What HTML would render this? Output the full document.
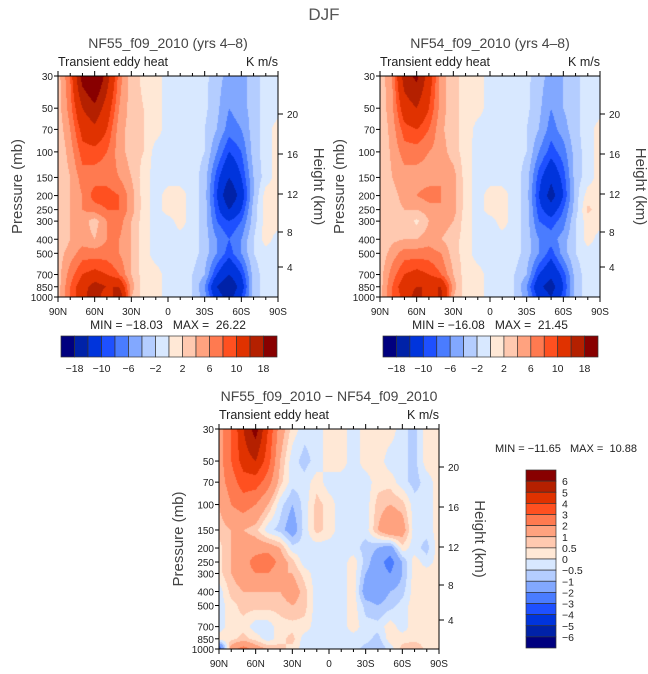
<!DOCTYPE html>
<html><head><meta charset="utf-8"><style>
body{margin:0;background:#fff;width:648px;height:674px;position:relative;overflow:hidden;font-family:"Liberation Sans",sans-serif}
canvas{position:absolute}
svg{position:absolute;left:0;top:0}
svg text{white-space:pre}
</style></head><body>
<canvas id="c1" style="left:58px;top:76px" width="220" height="221"></canvas>
<canvas id="c2" style="left:380px;top:76px" width="220" height="221"></canvas>
<canvas id="c3" style="left:219px;top:429px" width="220" height="220"></canvas>
<svg id="s" width="648" height="674"></svg>
<script>
const levels = [30,50,70,100,150,200,250,300,400,500,700,850,1000];
const lats = ["90N","80N","70N","60N","50N","40N","30N","20N","10N","0","10S","20S","30S","40S","50S","60S","70S","80S","90S"];
const xTickLabels = ["90N","60N","30N","0","30S","60S","90S"];
const pTickLabels = [30,50,70,100,150,200,250,300,400,500,700,850,1000];
const kmTicks = [4,8,12,16,20];
const fullLevels = [-18,-14,-10,-8,-6,-4,-2,0,2,4,6,8,10,14,18];
const fullLabels = ["-18","-10","-6","-2","2","6","10","18"];
const diffLevels = [-6,-5,-4,-3,-2,-1,-0.5,0,0.5,1,2,3,4,5,6];
const diffLabels = ["6","5","4","3","2","1","0.5","0","-0.5","-1","-2","-3","-4","-5","-6"];
const colors = ["#00007f","#0022a8","#0034dc","#1e50ff","#4a7cff","#82a8ff","#b4cdff","#d8e8ff","#ffe8d6","#ffc9b0","#ffa27f","#ff7a50","#ff5020","#e03200","#b42000","#880000"];

const field1 = [
[3,8,20,24,16,7,3,1.5,1,-1,-1,-1,-1.5,-3,-5,-5,-3,-1,-1],
[3,7,14,17,12,6,3,2,1,-1,-1,-1,-1.5,-3.5,-6,-5,-3,-1,-1],
[2.5,6,11,13,10,5,3,2,1,-1,-1,-1,-2,-4,-7,-6,-3,-1,1],
[2,5,9,9,8,5,3,2,-1,-1,-1.5,-1,-2,-6,-10,-8,-3,-1,1],
[2,4,7,7,7,6,4,1,-1,-1,-1,-1,-3,-9,-14,-10,-4,-1,1],
[2,4,6,9,9,8,5,1,-1,1,1,-1,-3,-10,-18,-12,-4,1,1],
[2,4,6,7,8,8,5,1,-1,1,1,-1,-3,-9,-14,-10,-3,1,1],
[2,4,5,3,6,7,4,1,-1,-1,1,-1,-3,-8,-10,-8,-3,1,1],
[2,4,5,4,6,6,4,1,-1,-1,-1,-1,-3,-6,-8,-6,-2,1,-1],
[3,5,7,7,7,6,4,1,-1,-1,-1,-1,-3,-6,-9,-6,-2,-1,-1],
[3,7,10,11,10,8,4,1,1,-1,-1,-2,-4,-10,-14,-10,-3,-1,-1],
[3,8,12,16,14,14,5,1,1,-1,-1,-2,-6,-14,-18,-12,-3,-1,-1],
[3,8,12,18,10,18,4,1,1,-1,-1,-2,-5,-12,-16,-10,-3,-1,-1]];
const field2 = [
[2.5,6,16,19,12,5,2.5,1.5,1,-1,-1,-1,-1.5,-3,-5,-4,-2.5,-1,-1],
[2.5,5.5,12,14,10,5,2.5,1.5,1,-1,-1,-1,-1.5,-3.5,-6,-4,-2.5,-1,-1],
[2,5,9,10,8,4.5,2.5,1.5,-1,-1,-1,-1,-2,-4,-7,-5,-2.5,-1,1],
[2,4.5,7,7,6,5,3,1,-1,-1,-1,-1,-2,-6,-9,-7,-3,-1,1],
[2,4,5,5,5,6,5,1,-1,-1,-1,-1,-3,-9,-13,-9,-3,-1,1],
[2,3.5,4.5,6,7,6,5,1,-1,1,1,-1,-3,-10,-16,-10,-3,1,1],
[2,3.5,4,4,5,6,5,1,-1,1,1,-1,-3,-9,-12,-8,-3,2.5,1],
[2,3.5,3.5,1.5,4,5,4,1,-1,-1,1,-1,-3,-8,-9,-7,-2,1,1],
[2,3.5,4,4,5,4,3,1,-1,-1,-1,-1,-3,-6,-7,-5,-2,1,-1],
[2.5,5,7,7,7,6,3,1,-1,-1,-1,-1,-3,-6,-9,-5,-2,-1,-1],
[3,7,10,11,10,8,4,1,1,-1,-1,-2,-4,-10,-13,-9,-3,-1,-1],
[3,8,12,14,14,14,5,1,1,-1,-1,-2,-6,-13,-16,-10,-3,-1,-1],
[3,8,11,16,11,15,4,1,1,-1,-1,-2,-5,-11,-14,-9,-3,-1,-1]];
const field3 = [
[1.5,3,5,6.5,4,1.5,0.3,-0.3,-0.3,0.3,0.3,-0.3,0.3,0.3,0.3,-0.3,-0.7,0.3,0.3],
[1.5,3,4.5,5,3.5,1,-0.3,-0.7,-0.3,0.3,0.3,-0.3,0.3,0.3,-0.3,-0.3,-0.7,0.3,0.3],
[1.5,2.5,3.5,3.5,2.5,0.7,-0.3,-0.3,0.3,-0.3,-0.3,-0.3,-0.3,0.3,0.3,-0.3,-0.7,-0.3,0.3],
[1,2,2.5,2,1,-0.3,-1,-0.3,0.7,0.3,-0.3,-0.3,-0.3,0.7,1,0.7,-0.3,-0.3,0.3],
[0.7,1,1,0.7,-0.3,-0.7,-1.5,-0.3,0.7,0.3,-0.3,-0.3,-0.3,1,2,1.5,-0.3,-0.3,0.3],
[0.3,1,1.5,1.5,1.5,1,-0.3,-0.3,-0.3,-0.3,-0.3,-0.3,-0.7,-1,-1.5,0.3,-0.3,-0.7,0.3],
[0.3,1,1.5,2.5,3,1.5,0.7,-0.3,-0.3,-0.3,-0.3,0.3,-0.7,-1.5,-2.5,-1,0.3,-0.3,0.3],
[0.3,1,1.5,2,2,1,1,0.3,-0.3,-0.3,-0.3,0.3,-1,-1.5,-2,-1,0.3,0.3,0.3],
[-0.3,0.7,1,1,1,1,1.5,0.7,-0.3,-0.3,-0.3,0.3,-1.5,-1.5,-1,-0.7,0.3,0.3,0.3],
[-0.3,0.3,0.7,0.7,0.7,0.7,1,0.7,-0.3,-0.3,-0.3,0.3,-0.7,-1,-0.7,-0.3,0.3,0.3,0.3],
[-0.3,0.3,0.3,-0.3,-0.3,0.3,0.3,0.3,-0.3,-0.3,-0.3,0.3,-0.3,-0.3,0.3,-0.3,0.3,0.3,0.3],
[0.3,0.3,0.7,0.3,-0.3,0.3,0.7,-0.3,-0.3,-0.3,-0.3,-0.3,-0.3,-0.7,0.3,0.3,0.3,0.3,0.3],
[-3,1.5,2.5,1.5,1,0.7,0.3,-0.3,-0.3,-0.3,-0.3,-0.3,-0.7,-1,-0.3,0.7,1,0.3,0.3]];

const LT = Math.log(1000/30);
function yOfP(p,h){return Math.log(p/30)/LT*h;}
function colorIdx(v,lv){let i=0;while(i<lv.length&&v>=lv[i])i++;return i;}
function fill(id,data,lv){
  const c=document.getElementById(id),ctx=c.getContext('2d'),w=c.width,h=c.height;
  const ly=levels.map(p=>yOfP(p,h));
  for(let py=0;py<h;py++){
    const y=py+0.5;let r=0;while(r<levels.length-2&&y>ly[r+1])r++;
    const ty=Math.min(1,Math.max(0,(y-ly[r])/(ly[r+1]-ly[r])));
    for(let px=0;px<w;px++){
      const fx=(px+0.5)/w*(lats.length-1);const ci=Math.min(lats.length-2,Math.floor(fx));const tx=fx-ci;
      const v=(data[r][ci]*(1-tx)+data[r][ci+1]*tx)*(1-ty)+(data[r+1][ci]*(1-tx)+data[r+1][ci+1]*tx)*ty;
      ctx.fillStyle=colors[colorIdx(v,lv)];ctx.fillRect(px,py,1,1);
    }
  }
}
fill('c1',field1,fullLevels);fill('c2',field2,fullLevels);fill('c3',field3,diffLevels);

const S=document.getElementById('s');const NS='http://www.w3.org/2000/svg';
function el(tag,attrs,txt){const e=document.createElementNS(NS,tag);for(const k in attrs)e.setAttribute(k,attrs[k]);if(txt!==undefined)e.textContent=txt;S.appendChild(e);return e;}
function txt(x,y,s,size,anchor,name,extra){const e=el('text',Object.assign({x:x,y:y,'font-size':size,'text-anchor':anchor||'middle',fill:'#222'},extra||{}),s);

return e;}
const kmPos={4:191,8:156,12:118,16:78,20:38};
function axes(x0,y0,w,h,title,p){
  const r=el('rect',{x:x0,y:y0,width:w,height:h,fill:'none',stroke:'#000','stroke-width':1});
  
  
  txt(x0+w/2,y0-28,title,14,'middle',p+'-title',{fill:'#444'});
  txt(x0,y0-10,'Transient eddy heat',12.5,'start',p+'-left-subtitle');
  txt(x0+w,y0-10,'K m/s',12.5,'end',p+'-right-subtitle');
  for(let i=0;i<lats.length;i++){const x=x0+i*w/(lats.length-1);const maj=i%3===0;const L=maj?5:3;
    el('line',{x1:x,x2:x,y1:y0+h,y2:y0+h+L,stroke:'#000'});el('line',{x1:x,x2:x,y1:y0,y2:y0-L,stroke:'#000'});}
  xTickLabels.forEach((s,i)=>txt(x0+i*w/6,y0+h+18,s,10,'middle',p+'-x-tick-label'));
  pTickLabels.forEach(pp=>{const y=y0+yOfP(pp,h);el('line',{x1:x0,x2:x0-4,y1:y,y2:y,stroke:'#000'});txt(x0-5,y+4,String(pp),10,'end',p+'-pressure-tick-label');});
  kmTicks.forEach(k=>{const y=y0+kmPos[k];el('line',{x1:x0+w,x2:x0+w+5,y1:y,y2:y,stroke:'#000'});txt(x0+w+9,y+4,String(k),10,'start',p+'-height-tick-label');});
  txt(0,0,'Pressure (mb)',15,'middle',p+'-y-axis-title',{transform:`translate(${x0-36},${y0+h/2}) rotate(-90)`,fill:'#444'});
  txt(0,0,'Height (km)',15,'middle',p+'-height-axis-title',{transform:`translate(${x0+w+36},${y0+h/2}) rotate(90)`,fill:'#444'});
}
function hbar(x0,y0,w,h,p){
  const bw=w/16;
  for(let i=0;i<16;i++){const r=el('rect',{x:x0+i*bw,y:y0,width:bw,height:h,fill:colors[i],stroke:'#333','stroke-width':0.7});
    
    }
  fullLabels.forEach((s,j)=>txt(x0+(1+2*j)*bw,y0+h+15,s.replace('-','\u2212'),10.5,'middle',p+'-colorbar-label'));
}
txt(324,20,'DJF',17,'middle','figure-title',{fill:'#555'});
axes(58,76,220,221,'NF55_f09_2010 (yrs 4\u20138)','panel1');
axes(380,76,220,221,'NF54_f09_2010 (yrs 4\u20138)','panel2');
axes(219,429,220,220,'NF55_f09_2010 \u2212 NF54_f09_2010','panel3');
txt(168,329,'MIN = \u221218.03   MAX =  26.22',12,'middle','panel1-min-max');
txt(490,329,'MIN = \u221216.08   MAX =  21.45',12,'middle','panel2-min-max');
txt(566,452,'MIN = \u221211.65   MAX =  10.88',11,'middle','panel3-min-max');
hbar(61,336,216,21,'panel1');hbar(383,336,215,21,'panel2');
const vx=526,vy=470,vw=30,vh=178,bh=vh/16;
for(let i=0;i<16;i++){const r=el('rect',{x:vx,y:vy+i*bh,width:vw,height:bh,fill:colors[15-i],stroke:'#333','stroke-width':0.7});
  
  }
diffLabels.forEach((s,j)=>txt(vx+vw+6,vy+(j+1)*bh+4,s.replace('-','\u2212'),10.5,'start','panel3-colorbar-label'));
</script>
</body></html>
